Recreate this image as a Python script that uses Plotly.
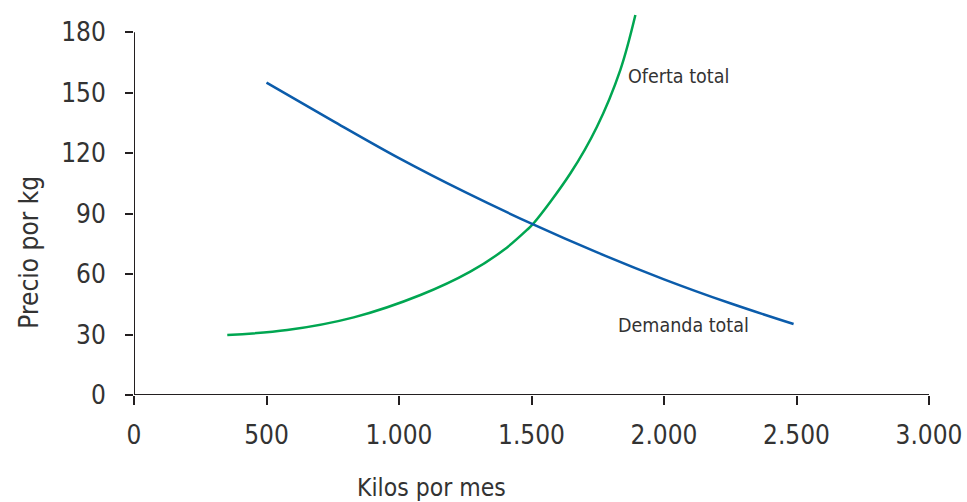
import plotly.graph_objects as go

# Data
demand_x = [500, 750, 1000, 1250, 1500, 1750, 2000, 2250, 2489]
demand_y = [155, 136, 117.5, 100.6, 85, 70.6, 57.4, 45.5, 35.2]

supply_x = [352, 578, 829, 1081, 1269, 1395, 1483, 1508, 1647, 1747, 1835, 1892]
supply_y = [29.8, 32.2, 38.5, 49.6, 61.2, 71.9, 81.9, 85.2, 110, 133.1, 161.2, 188.5]

x_ticks = [0, 500, 1000, 1500, 2000, 2500, 3000]
x_tick_text = ["0", "500", "1.000", "1.500", "2.000", "2.500", "3.000"]
y_ticks = [0, 30, 60, 90, 120, 150, 180]

FONT = "DejaVu Sans Condensed, Liberation Sans Narrow, sans-serif"
TXT = "#333333"
AX = "#231f20"

fig = go.Figure()
fig.add_trace(go.Scatter(x=supply_x, y=supply_y, mode="lines",
                         line=dict(color="#00a651", width=2.5, shape="spline", smoothing=1.0),
                         name="Oferta total", hoverinfo="skip"))
fig.add_trace(go.Scatter(x=demand_x, y=demand_y, mode="lines",
                         line=dict(color="#0b5cab", width=2.5, shape="spline", smoothing=1.0),
                         name="Demanda total", hoverinfo="skip"))

# axis lines
fig.add_shape(type="line", x0=0, x1=3000, y0=0, y1=0, xref="x", yref="y",
              line=dict(color=AX, width=2))
fig.add_shape(type="line", x0=0, x1=0, y0=0, y1=180, xref="x", yref="y",
              line=dict(color=AX, width=2))

fig.add_annotation(x=1858, y=157.8, xref="x", yref="y", text="Oferta total",
                   showarrow=False, xanchor="left", yanchor="middle",
                   font=dict(family=FONT, size=19.5, color=TXT))
fig.add_annotation(x=1820, y=34.7, xref="x", yref="y", text="Demanda total",
                   showarrow=False, xanchor="left", yanchor="middle",
                   font=dict(family=FONT, size=19.5, color=TXT))
fig.add_annotation(x=1124, y=-0.2403, xref="x", yref="paper", text="Kilos por mes",
                   showarrow=False, xanchor="center", yanchor="middle",
                   font=dict(family=FONT, size=24.5, color=TXT))
fig.add_annotation(x=-0.1314, y=70.9, xref="paper", yref="y", text="Precio por kg",
                   showarrow=False, xanchor="center", yanchor="middle", textangle=-90,
                   font=dict(family=FONT, size=26, color=TXT))

fig.update_layout(
    width=967, height=502,
    margin=dict(l=134, r=38, t=8, b=107),
    paper_bgcolor="white", plot_bgcolor="white",
    showlegend=False,
    font=dict(family=FONT, color=TXT),
)
fig.update_xaxes(range=[0, 3000], tickvals=x_ticks, ticktext=x_tick_text,
                 ticks="outside", ticklen=9, tickwidth=2, tickcolor=AX,
                 showgrid=False, zeroline=False, showline=False, automargin=False,
                 tickfont=dict(family=FONT, size=26, color=TXT), ticklabelstandoff=8)
fig.update_yaxes(range=[0, 192], tickvals=y_ticks,
                 ticks="outside", ticklen=8, tickwidth=2, tickcolor=AX,
                 showgrid=False, zeroline=False, showline=False, automargin=False,
                 tickfont=dict(family=FONT, size=26, color=TXT), ticklabelstandoff=14)

fig.write_html("out.html", config={"displayModeBar": False},
               post_script="document.body.style.margin='0';")
